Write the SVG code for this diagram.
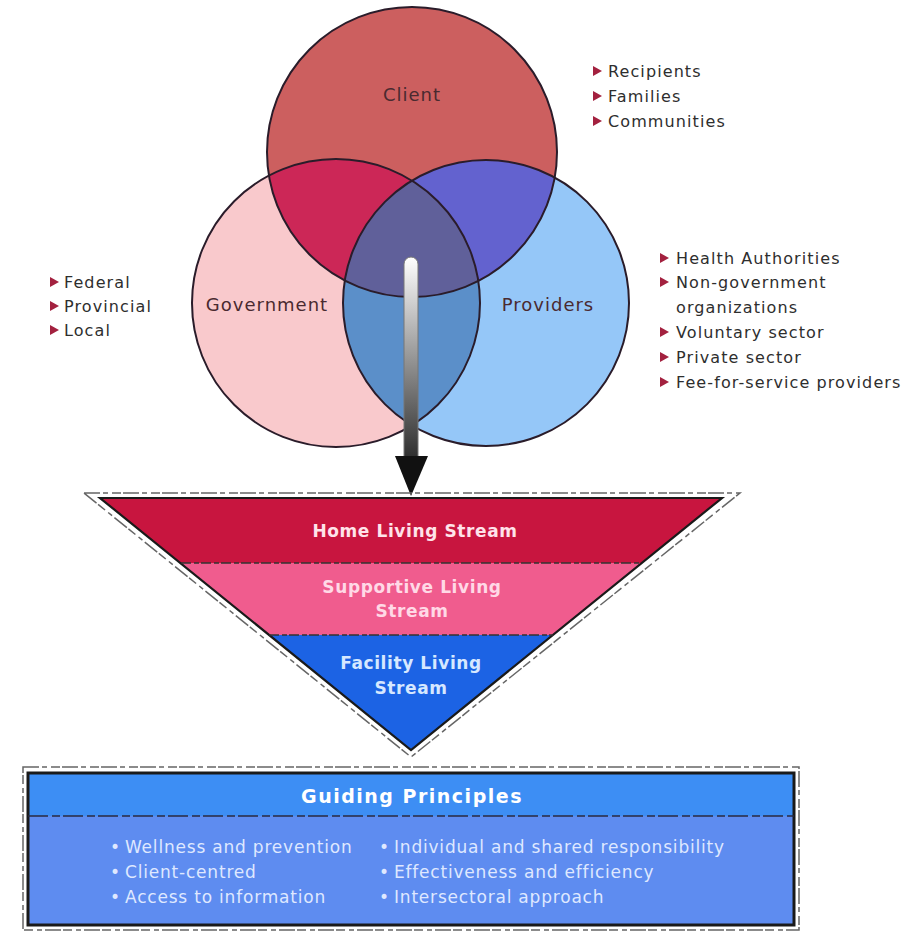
<svg xmlns="http://www.w3.org/2000/svg" width="920" height="933" viewBox="0 0 920 933">
<style>
.lbl{font-family:"DejaVu Sans","Liberation Sans",sans-serif;font-size:18px;letter-spacing:1px;fill:#4a2a30;text-anchor:middle}
.lst{font-family:"DejaVu Sans","Liberation Sans",sans-serif;font-size:16px;letter-spacing:1.1px;fill:#2e2e2e}
.tri{fill:#a3213f}
.band{font-family:"DejaVu Sans","Liberation Sans",sans-serif;font-size:17px;letter-spacing:0.6px;font-weight:bold;text-anchor:middle}
.hdr{font-family:"DejaVu Sans","Liberation Sans",sans-serif;font-size:19px;letter-spacing:1.5px;font-weight:bold;text-anchor:middle;fill:#ffffff}
.gp{font-family:"DejaVu Sans","Liberation Sans",sans-serif;font-size:17px;letter-spacing:0.8px;fill:#dfe8ff}
.ring{fill:none;stroke:#2a1c2a;stroke-width:2}
.sk{fill:none;stroke:#666;stroke-width:1.5;stroke-dasharray:16 3 5 4 9 2}
</style>
<defs>
<clipPath id="cC"><circle cx="412" cy="152" r="145"/></clipPath>
<clipPath id="cG"><circle cx="336" cy="303" r="144"/></clipPath>
<clipPath id="cP"><circle cx="486" cy="303" r="143"/></clipPath>
<linearGradient id="bar" x1="0" y1="0" x2="0" y2="1">
<stop offset="0" stop-color="#ffffff"/>
<stop offset="1" stop-color="#2e2e2e"/>
</linearGradient>
<polygon id="mk" points="0,-5 9,0 0,5" class="tri"/>
</defs>
<rect width="920" height="933" fill="#ffffff"/>

<g id="venn">
<g id="government"><circle cx="336" cy="303" r="144" fill="#f9c9cc"/></g>
<g id="providers"><circle cx="486" cy="303" r="143" fill="#95c7f8"/></g>
<g id="client"><circle cx="412" cy="152" r="145" fill="#cc5f5f"/></g>
<g clip-path="url(#cC)"><circle cx="336" cy="303" r="144" fill="#cc2757"/></g>
<g clip-path="url(#cC)"><circle cx="486" cy="303" r="143" fill="#6362cf"/></g>
<g clip-path="url(#cG)"><circle cx="486" cy="303" r="143" fill="#5b8fc9"/></g>
<g clip-path="url(#cG)"><g clip-path="url(#cP)"><circle cx="412" cy="152" r="145" fill="#60609a"/></g></g>
<circle class="ring" cx="412" cy="152" r="145"/>
<circle class="ring" cx="336" cy="303" r="144"/>
<circle class="ring" cx="486" cy="303" r="143"/>
<text class="lbl" x="412" y="101">Client</text>
<text class="lbl" x="267" y="311">Government</text>
<text class="lbl" x="548" y="311">Providers</text>
</g>

<g id="client-list">
<use href="#mk" x="593" y="71"/><text class="lst" x="608" y="77">Recipients</text>
<use href="#mk" x="593" y="96"/><text class="lst" x="608" y="102">Families</text>
<use href="#mk" x="593" y="121"/><text class="lst" x="608" y="127">Communities</text>
</g>
<g id="government-list">
<use href="#mk" x="50" y="282"/><text class="lst" x="64" y="288">Federal</text>
<use href="#mk" x="50" y="306"/><text class="lst" x="64" y="312">Provincial</text>
<use href="#mk" x="50" y="330"/><text class="lst" x="64" y="336">Local</text>
</g>
<g id="providers-list">
<use href="#mk" x="660" y="258"/><text class="lst" x="676" y="264">Health Authorities</text>
<use href="#mk" x="660" y="282"/><text class="lst" x="676" y="288">Non-government</text>
<text class="lst" x="676" y="313">organizations</text>
<use href="#mk" x="660" y="332"/><text class="lst" x="676" y="338">Voluntary sector</text>
<use href="#mk" x="660" y="357"/><text class="lst" x="676" y="363">Private sector</text>
<use href="#mk" x="660" y="382"/><text class="lst" x="676" y="388">Fee-for-service providers</text>
</g>

<g id="connectors">
<path d="M404,264 a7,7 0 0 1 14,0 V458 H404 Z" fill="url(#bar)" stroke="#777" stroke-width="1"/>
<polygon points="395,456 428,456 411,496" fill="#111"/>
</g>

<g id="streams">
<polygon class="sk" points="84,493 740,493 411,757"/>
<polygon points="100,498 722,498 641,563 181,563" fill="#c8153f"/>
<polygon points="181,563 641,563 553,635 269,635" fill="#f05c8e"/>
<polygon points="269,635 553,635 411,750" fill="#1c63e4"/>
<polygon points="100,498 722,498 411,750" fill="none" stroke="#1a1a1a" stroke-width="2.2" stroke-linejoin="miter"/>
<line x1="181" y1="563" x2="641" y2="563" stroke="#333" stroke-width="1.5" stroke-dasharray="10 3 5 2"/>
<line x1="269" y1="635" x2="553" y2="635" stroke="#333" stroke-width="1.5" stroke-dasharray="10 3 5 2"/>
<text class="band" x="415" y="537" fill="#ffe3ea">Home Living Stream</text>
<text class="band" x="412" y="593" fill="#ffd9e6">Supportive Living</text>
<text class="band" x="412" y="617" fill="#ffd9e6">Stream</text>
<text class="band" x="411" y="669" fill="#d6e8ff">Facility Living</text>
<text class="band" x="411" y="694" fill="#d6e8ff">Stream</text>
</g>

<g id="guiding-principles">
<rect x="28" y="773" width="766" height="43" fill="#3d8ef4"/>
<rect x="28" y="816" width="766" height="109" fill="#5e8cf0"/>
<rect x="28" y="773" width="766" height="152" fill="none" stroke="#1a1a1a" stroke-width="3"/>
<rect class="sk" x="23" y="767" width="776" height="163"/>
<line x1="28" y1="816" x2="794" y2="816" stroke="#2a2a40" stroke-width="1.5" stroke-dasharray="20 4 8 3"/>
<text class="hdr" x="412" y="803">Guiding Principles</text>
<text class="gp" x="110" y="853">•</text><text class="gp" x="125" y="853">Wellness and prevention</text>
<text class="gp" x="110" y="878">•</text><text class="gp" x="125" y="878">Client-centred</text>
<text class="gp" x="110" y="903">•</text><text class="gp" x="125" y="903">Access to information</text>
<text class="gp" x="379" y="853">•</text><text class="gp" x="394" y="853">Individual and shared responsibility</text>
<text class="gp" x="379" y="878">•</text><text class="gp" x="394" y="878">Effectiveness and efficiency</text>
<text class="gp" x="379" y="903">•</text><text class="gp" x="394" y="903">Intersectoral approach</text>
</g>
</svg>
